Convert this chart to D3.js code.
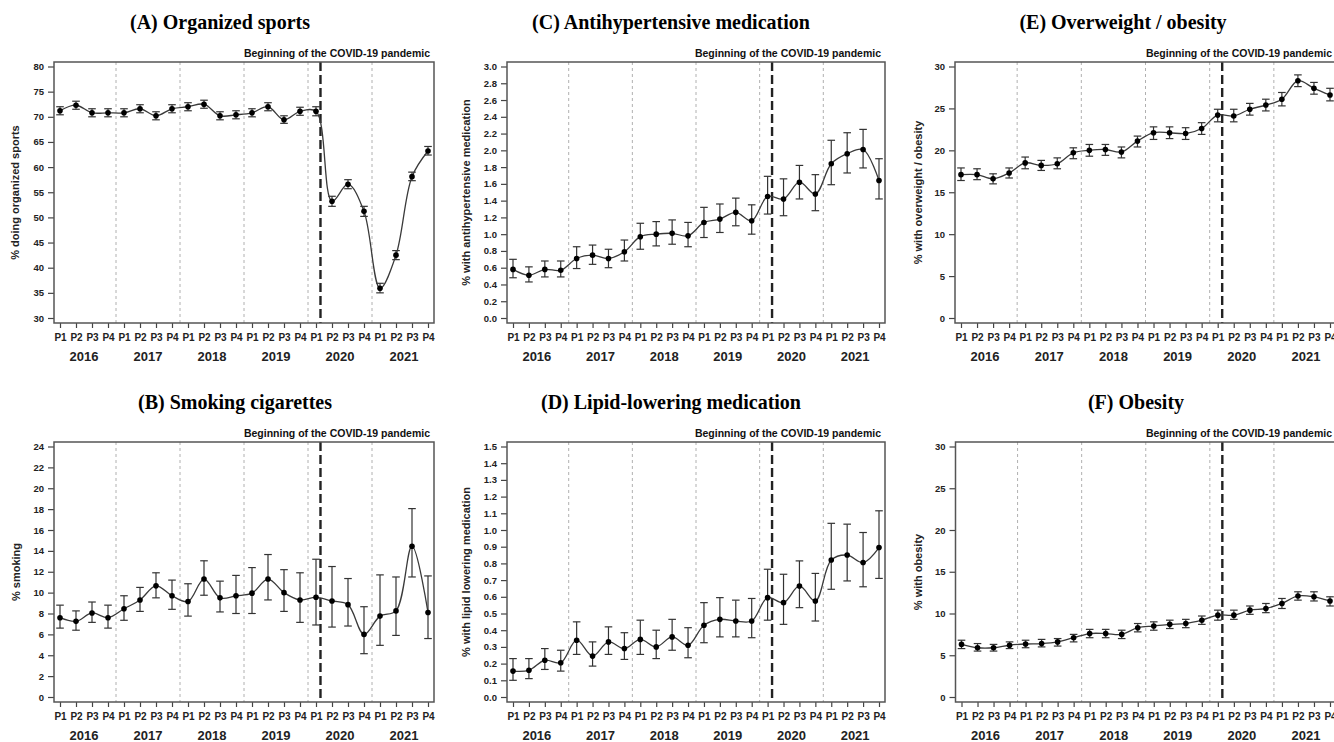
<!DOCTYPE html>
<html>
<head>
<meta charset="utf-8">
<script src="https://cdn.jsdelivr.net/npm/d3@7"></script>
<style>
  body { margin: 0; background: #fff; }
  svg { display: block; }
</style>
</head>
<body>
<div id="chart-area"></div>
<script>
const periods = ["P1", "P2", "P3", "P4"];
const years = ["2016", "2017", "2018", "2019", "2020", "2021"];
const yearBreaks = [3.5, 7.5, 11.5, 15.5, 19.5];
const covidStart = 16.28;
const covidText = "Beginning of the COVID-19 pandemic";

// (A) organized sports
const sportsEst  = [71.2, 72.3, 70.8, 70.8, 70.8, 71.6, 70.2, 71.6, 72.0, 72.5, 70.2, 70.4, 70.8, 72.0, 69.4, 71.1, 71.1, 53.2, 56.6, 51.2, 35.9, 42.5, 58.1, 63.2];
const sportsLow  = [70.4, 71.5, 70.0, 70.0, 70.0, 70.8, 69.4, 70.8, 71.2, 71.7, 69.4, 69.6, 70.0, 71.2, 68.7, 70.3, 70.2, 52.2, 55.7, 50.2, 35.0, 41.6, 57.3, 62.4];
const sportsHigh = [72.0, 73.1, 71.6, 71.6, 71.6, 72.4, 71.0, 72.4, 72.8, 73.3, 71.0, 71.2, 71.6, 72.8, 70.2, 71.9, 72.0, 54.2, 57.5, 52.2, 36.9, 43.4, 59.0, 64.1];

// (B) smoking
const smokeEst  = [7.6, 7.25, 8.05, 7.6, 8.45, 9.3, 10.65, 9.7, 9.15, 11.3, 9.5, 9.7, 9.95, 11.3, 10.0, 9.3, 9.55, 9.2, 8.85, 6.0, 7.75, 8.25, 14.45, 8.1];
const smokeLow  = [6.6, 6.4, 7.15, 6.6, 7.35, 8.2, 9.5, 8.4, 7.75, 9.75, 8.15, 8.0, 8.0, 9.3, 8.2, 7.15, 6.9, 6.7, 6.8, 4.15, 4.95, 5.9, 11.5, 5.6];
const smokeHigh = [8.8, 8.25, 9.1, 8.8, 9.7, 10.5, 11.9, 11.2, 10.85, 13.05, 11.1, 11.65, 12.4, 13.65, 12.2, 11.9, 13.2, 12.5, 11.35, 8.65, 11.7, 11.5, 18.05, 11.6];

// (C) antihypertensive medication
const antiEst  = [0.58, 0.51, 0.58, 0.57, 0.71, 0.75, 0.71, 0.79, 0.97, 1.00, 1.01, 0.98, 1.14, 1.18, 1.26, 1.16, 1.45, 1.42, 1.62, 1.48, 1.84, 1.96, 2.01, 1.64];
const antiLow  = [0.48, 0.43, 0.49, 0.49, 0.59, 0.64, 0.60, 0.68, 0.82, 0.86, 0.88, 0.85, 0.96, 1.02, 1.10, 1.00, 1.24, 1.22, 1.42, 1.28, 1.59, 1.73, 1.79, 1.42];
const antiHigh = [0.70, 0.61, 0.68, 0.68, 0.85, 0.87, 0.82, 0.93, 1.13, 1.15, 1.17, 1.14, 1.32, 1.36, 1.43, 1.35, 1.69, 1.66, 1.82, 1.71, 2.12, 2.21, 2.25, 1.90];

// (D) lipid-lowering medication
const lipidEst  = [0.155, 0.16, 0.22, 0.205, 0.34, 0.245, 0.33, 0.29, 0.345, 0.30, 0.36, 0.31, 0.43, 0.465, 0.455, 0.455, 0.595, 0.565, 0.665, 0.575, 0.82, 0.85, 0.805, 0.895];
const lipidLow  = [0.10, 0.11, 0.165, 0.155, 0.255, 0.185, 0.255, 0.225, 0.255, 0.23, 0.28, 0.235, 0.325, 0.36, 0.36, 0.355, 0.46, 0.435, 0.535, 0.455, 0.645, 0.695, 0.66, 0.71];
const lipidHigh = [0.23, 0.23, 0.29, 0.28, 0.45, 0.33, 0.42, 0.385, 0.46, 0.40, 0.465, 0.415, 0.565, 0.595, 0.58, 0.59, 0.765, 0.735, 0.815, 0.74, 1.04, 1.035, 0.985, 1.115];

// (E) overweight / obesity
const overEst  = [17.1, 17.1, 16.6, 17.3, 18.5, 18.2, 18.4, 19.7, 20.0, 20.1, 19.8, 21.1, 22.1, 22.1, 22.0, 22.6, 24.2, 24.1, 24.9, 25.4, 26.1, 28.3, 27.4, 26.6];
const overLow  = [16.4, 16.5, 16.0, 16.7, 17.8, 17.6, 17.8, 19.0, 19.3, 19.4, 19.1, 20.4, 21.3, 21.4, 21.3, 21.9, 23.4, 23.4, 24.2, 24.7, 25.3, 27.6, 26.7, 25.9];
const overHigh = [17.9, 17.8, 17.2, 17.9, 19.2, 18.8, 19.1, 20.3, 20.7, 20.7, 20.4, 21.7, 22.8, 22.8, 22.7, 23.3, 24.9, 24.9, 25.6, 26.1, 26.9, 29.0, 28.1, 27.4];

// (F) obesity
const obeseEst  = [6.3, 5.9, 5.9, 6.2, 6.35, 6.4, 6.6, 7.1, 7.6, 7.6, 7.5, 8.3, 8.5, 8.7, 8.8, 9.2, 9.8, 9.8, 10.4, 10.6, 11.2, 12.1, 12.0, 11.5];
const obeseLow  = [5.8, 5.5, 5.5, 5.8, 5.9, 6.0, 6.1, 6.6, 7.1, 7.1, 7.0, 7.8, 8.0, 8.2, 8.3, 8.7, 9.2, 9.3, 9.9, 10.1, 10.6, 11.6, 11.5, 10.9];
const obeseHigh = [6.8, 6.4, 6.3, 6.6, 6.8, 6.9, 7.0, 7.5, 8.1, 8.1, 8.0, 8.8, 9.0, 9.2, 9.3, 9.7, 10.4, 10.4, 10.9, 11.2, 11.8, 12.6, 12.6, 12.0];

const svgWidth = 1334;
const svgHeight = 742;

const svg = d3.select("#chart-area")
    .append("svg")
    .attr("width", svgWidth)
    .attr("height", svgHeight);

const panels = [
    { title: "(A) Organized sports", titleX: 220, titleY: 29, yLabel: "% doing organized sports", yLabelX: 15,
      yMin: 30, yMax: 80, yStep: 5, fmt: d3.format("d"),
      x0: 54, x1: 434, y0: 62, y1: 323, est: sportsEst, low: sportsLow, high: sportsHigh },
    { title: "(C) Antihypertensive medication", titleX: 671, titleY: 29, yLabel: "% with antihypertensive medication", yLabelX: 466,
      yMin: 0, yMax: 3.0, yStep: 0.2, fmt: d3.format(".1f"),
      x0: 507, x1: 885, y0: 62, y1: 323, est: antiEst, low: antiLow, high: antiHigh },
    { title: "(E) Overweight / obesity", titleX: 1123, titleY: 29, yLabel: "% with overweight / obesity", yLabelX: 918,
      yMin: 0, yMax: 30, yStep: 5, fmt: d3.format("d"),
      x0: 955, x1: 1336, y0: 62, y1: 323, est: overEst, low: overLow, high: overHigh },
    { title: "(B) Smoking cigarettes", titleX: 235, titleY: 409, yLabel: "% smoking", yLabelX: 16,
      yMin: 0, yMax: 24, yStep: 2, fmt: d3.format("d"),
      x0: 54, x1: 434, y0: 442, y1: 702, est: smokeEst, low: smokeLow, high: smokeHigh },
    { title: "(D) Lipid-lowering medication", titleX: 671, titleY: 409, yLabel: "% with lipid lowering medication", yLabelX: 466,
      yMin: 0, yMax: 1.5, yStep: 0.1, fmt: d3.format(".1f"),
      x0: 507, x1: 885, y0: 442, y1: 702, est: lipidEst, low: lipidLow, high: lipidHigh },
    { title: "(F) Obesity", titleX: 1136, titleY: 409, yLabel: "% with obesity", yLabelX: 918,
      yMin: 0, yMax: 30, yStep: 5, fmt: d3.format("d"),
      x0: 955.5, x1: 1336, y0: 442, y1: 702, est: obeseEst, low: obeseLow, high: obeseHigh }
];

panels.forEach(drawPanel);

function drawPanel(p) {
    const g = svg.append("g");
    const xScale = d3.scaleLinear().domain([0, 23]).range([p.x0 + 6, p.x1 - 6]);
    const yScale = d3.scaleLinear().domain([p.yMin, p.yMax]).range([p.y1 - 5, p.y0 + 4.5]);
    const data = p.est.map((v, i) => ({ i, v, lo: p.low[i], hi: p.high[i] }));

    g.append("text")
        .attr("x", p.titleX)
        .attr("y", p.titleY)
        .attr("text-anchor", "middle")
        .style("font-family", "'Liberation Serif', 'Times New Roman', serif")
        .style("font-size", "20px")
        .style("font-weight", "bold")
        .text(p.title);

    // year separators
    g.selectAll(".year-sep")
        .data(yearBreaks)
        .join("line")
        .attr("x1", d => xScale(d))
        .attr("x2", d => xScale(d))
        .attr("y1", p.y0)
        .attr("y2", p.y1)
        .attr("stroke", "#b0b0b0")
        .attr("stroke-width", 1)
        .attr("stroke-dasharray", "3,3");

    g.append("line")
        .attr("x1", xScale(covidStart))
        .attr("x2", xScale(covidStart))
        .attr("y1", p.y0)
        .attr("y2", p.y1)
        .attr("stroke", "#222")
        .attr("stroke-width", 2.4)
        .attr("stroke-dasharray", "9,4");

    g.append("text")
        .attr("x", p.x1 - 4)
        .attr("y", p.y0 - 5)
        .attr("text-anchor", "end")
        .style("font-family", "'Liberation Sans', Arial, sans-serif")
        .style("font-size", "10.5px")
        .style("font-weight", "bold")
        .attr("fill", "#111")
        .text(covidText);

    // y axis
    const yTicks = d3.range(0, Math.round((p.yMax - p.yMin) / p.yStep) + 1).map(k => p.yMin + k * p.yStep);
    const yAxisGroup = g.append("g")
        .attr("transform", `translate(${p.x0},0)`)
        .call(d3.axisLeft(yScale)
            .tickValues(yTicks)
            .tickFormat(p.fmt)
            .tickSize(6)
            .tickSizeOuter(0)
            .tickPadding(4));
    yAxisGroup.select(".domain").remove();
    yAxisGroup.selectAll("line").attr("stroke", "#444").attr("stroke-width", 1.2);
    yAxisGroup.selectAll("text")
        .style("font-family", "'Liberation Sans', Arial, sans-serif")
        .style("font-size", "9.5px")
        .style("font-weight", "bold")
        .attr("fill", "#222");

    // x axis
    const xAxisGroup = g.append("g")
        .attr("transform", `translate(0,${p.y1})`)
        .call(d3.axisBottom(xScale)
            .tickValues(d3.range(24))
            .tickFormat(i => periods[i % 4])
            .tickSize(5)
            .tickSizeOuter(0)
            .tickPadding(6));
    xAxisGroup.select(".domain").remove();
    xAxisGroup.selectAll("line").attr("stroke", "#444").attr("stroke-width", 1.2);
    xAxisGroup.selectAll("text")
        .style("font-family", "'Liberation Sans', Arial, sans-serif")
        .style("font-size", "10px")
        .style("font-weight", "bold")
        .attr("fill", "#222");

    g.selectAll(".year-label")
        .data(years)
        .join("text")
        .attr("x", (d, k) => xScale(k * 4 + 1.5))
        .attr("y", p.y1 + 38)
        .attr("text-anchor", "middle")
        .style("font-family", "'Liberation Sans', Arial, sans-serif")
        .style("font-size", "13px")
        .style("font-weight", "bold")
        .attr("fill", "#222")
        .text(d => d);

    g.append("text")
        .attr("transform", `translate(${p.yLabelX},${(p.y0 + p.y1) / 2}) rotate(-90)`)
        .attr("text-anchor", "middle")
        .attr("dominant-baseline", "central")
        .style("font-family", "'Liberation Sans', Arial, sans-serif")
        .style("font-size", "11px")
        .style("font-weight", "bold")
        .attr("fill", "#222")
        .text(p.yLabel);

    // error bars
    const bars = g.append("g").attr("stroke", "#333").attr("stroke-width", 1.2);
    bars.selectAll(".ci")
        .data(data)
        .join("line")
        .attr("x1", d => xScale(d.i))
        .attr("x2", d => xScale(d.i))
        .attr("y1", d => yScale(d.lo))
        .attr("y2", d => yScale(d.hi));
    bars.selectAll(".cap-lo")
        .data(data)
        .join("line")
        .attr("x1", d => xScale(d.i) - 3.8)
        .attr("x2", d => xScale(d.i) + 3.8)
        .attr("y1", d => yScale(d.lo))
        .attr("y2", d => yScale(d.lo));
    bars.selectAll(".cap-hi")
        .data(data)
        .join("line")
        .attr("x1", d => xScale(d.i) - 3.8)
        .attr("x2", d => xScale(d.i) + 3.8)
        .attr("y1", d => yScale(d.hi))
        .attr("y2", d => yScale(d.hi));

    const line = d3.line()
        .x(d => xScale(d.i))
        .y(d => yScale(d.v))
        .curve(d3.curveCatmullRom.alpha(0.5));

    g.append("path")
        .datum(data)
        .attr("fill", "none")
        .attr("stroke", "#3a3a3a")
        .attr("stroke-width", 1.3)
        .attr("d", line);

    g.selectAll(".dot")
        .data(data)
        .join("circle")
        .attr("cx", d => xScale(d.i))
        .attr("cy", d => yScale(d.v))
        .attr("r", 2.8)
        .attr("fill", "#000");

    // frame
    g.append("rect")
        .attr("x", p.x0)
        .attr("y", p.y0)
        .attr("width", p.x1 - p.x0)
        .attr("height", p.y1 - p.y0)
        .attr("fill", "none")
        .attr("stroke", "#555")
        .attr("stroke-width", 1.5);
}
</script>
</body>
</html>
